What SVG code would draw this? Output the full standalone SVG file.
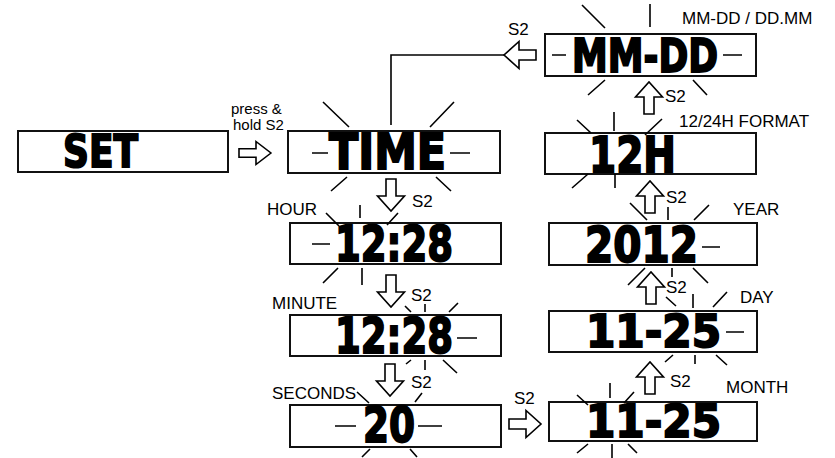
<svg xmlns="http://www.w3.org/2000/svg" width="835" height="458" viewBox="0 0 835 458">
<style>
.box{fill:#fff;stroke:#111;stroke-width:2}
.lcd{font-family:"DejaVu Sans","Liberation Sans",sans-serif;font-weight:bold;fill:#000;stroke:#000;stroke-width:2;stroke-linejoin:miter}
.lbl{font-family:"Liberation Sans",Arial,sans-serif;font-size:17px;fill:#000}
.sm{font-size:15px}
.ray{stroke:#000;stroke-width:1.6;fill:none}
.arr{fill:#fff;stroke:#000;stroke-width:1.6;stroke-linejoin:miter}
.con{stroke:#000;stroke-width:1.6;fill:none}
</style>
<defs>
<path id="ar" d="M0,-5 L17,-5 L17,-13.5 L32,0 L17,13.5 L17,5 L0,5 Z"/>
</defs>
<rect width="835" height="458" fill="#fff"/>

<g id="connectors">
<path class="con" d="M391,125 V55 H505"/>
<use href="#ar" class="arr" transform="translate(536,55) rotate(180)"/>
<text class="lbl" x="508" y="35">S2</text>
<use href="#ar" class="arr" transform="translate(239,153) scale(1,0.85)"/>
<text class="lbl sm" x="231" y="114">press &amp;</text>
<text class="lbl sm" x="233" y="130">hold S2</text>
<use href="#ar" class="arr" transform="translate(391,179) rotate(90)"/>
<text class="lbl" x="412" y="207">S2</text>
<use href="#ar" class="arr" transform="translate(391,275) rotate(90)"/>
<text class="lbl" x="411" y="301">S2</text>
<use href="#ar" class="arr" transform="translate(390,364) rotate(90)"/>
<text class="lbl" x="411" y="388">S2</text>
<use href="#ar" class="arr" transform="translate(509,424)"/>
<text class="lbl" x="514" y="404">S2</text>
<use href="#ar" class="arr" transform="translate(650,394) rotate(-90)"/>
<text class="lbl" x="670" y="387">S2</text>
<use href="#ar" class="arr" transform="translate(651,304) rotate(-90)"/>
<text class="lbl" x="666" y="293">S2</text>
<use href="#ar" class="arr" transform="translate(650,213) rotate(-90)"/>
<text class="lbl" x="666" y="203">S2</text>
<use href="#ar" class="arr" transform="translate(649,114) rotate(-90)"/>
<text class="lbl" x="665" y="102">S2</text>
</g>

<g id="node-set">
<rect class="box" x="18" y="131" width="210" height="41"/>
<text class="lcd" x="63" y="167" font-size="45" textLength="75" lengthAdjust="spacingAndGlyphs">SET</text>
</g>

<g id="node-time">
<rect class="box" x="288" y="131" width="212" height="42"/>
<text class="lcd" x="329" y="169" font-size="50" textLength="117" lengthAdjust="spacingAndGlyphs">TIME</text>
<path class="ray" d="M312,153H328 M450,153H470 M323,102L349,127 M454,102L430,127 M347,177L331,191 M436,177L451,191"/>
</g>

<g id="node-hour">
<rect class="box" x="290" y="223" width="211" height="41"/>
<text class="lcd" x="335" y="261" font-size="50" textLength="118" lengthAdjust="spacingAndGlyphs">12:28</text>
<path class="ray" d="M312,244H330 M326,213L339,226 M360,205V218 M398,213L387,225 M338,268L323,283 M362,268V285"/>
<text class="lbl" x="267" y="215">HOUR</text>
</g>

<g id="node-minute">
<rect class="box" x="290" y="315" width="211" height="41"/>
<text class="lcd" x="335" y="353" font-size="50" textLength="118" lengthAdjust="spacingAndGlyphs">12:28</text>
<path class="ray" d="M457,338H477 M405,306L411,312 M425,304V312 M458,303L449,312 M411,360L406,364 M425,360V370 M443,360L457,373"/>
<text class="lbl" x="272" y="309">MINUTE</text>
</g>

<g id="node-seconds">
<rect class="box" x="290" y="405" width="211" height="42"/>
<text class="lcd" x="363" y="442" font-size="50" textLength="52" lengthAdjust="spacingAndGlyphs">20</text>
<path class="ray" d="M335,426H356 M418,426H442 M357,392L369,403 M422,393L415,402 M370,449L362,457 M410,449L417,457"/>
<text class="lbl" x="272" y="399">SECONDS</text>
</g>

<g id="node-mmdd">
<rect class="box" x="545" y="34" width="211" height="42"/>
<text class="lcd" x="572" y="72" font-size="46" textLength="146" lengthAdjust="spacingAndGlyphs">MM-DD</text>
<path class="ray" d="M552,55H566 M723,55H742 M582,5L605,28 M650,4V27 M605,80L588,95 M693,80L707,95"/>
<text class="lbl" x="682" y="24">MM-DD / DD.MM</text>
</g>

<g id="node-12h">
<rect class="box" x="545" y="133" width="211" height="41"/>
<text class="lcd" x="589" y="172" font-size="50" textLength="87" lengthAdjust="spacingAndGlyphs">12H</text>
<path class="ray" d="M577,120L591,133 M614,112V131 M662,119L645,135 M588,174L572,188 M615,174V188"/>
<text class="lbl" x="679" y="127">12/24H FORMAT</text>
</g>

<g id="node-year">
<rect class="box" x="549" y="223" width="208" height="42"/>
<text class="lcd" x="585" y="262" font-size="50" textLength="113" lengthAdjust="spacingAndGlyphs">2012</text>
<path class="ray" d="M702,247H720 M630,203L647,220 M668,207V220 M709,205L694,220 M645,268L628,285 M672,268V277 M693,268L708,283"/>
<text class="lbl" x="733" y="215">YEAR</text>
</g>

<g id="node-day">
<rect class="box" x="549" y="311" width="208" height="41"/>
<text class="lcd" x="586" y="347" font-size="45" textLength="135" lengthAdjust="spacingAndGlyphs">11-25</text>
<path class="ray" d="M726,332H744 M666,297L676,306 M693,294V308 M727,292L713,307 M673,355L665,362 M695,355V364 M716,355L727,365"/>
<text class="lbl" x="740" y="303">DAY</text>
</g>

<g id="node-month">
<rect class="box" x="549" y="402" width="208" height="39"/>
<text class="lcd" x="586" y="437" font-size="45" textLength="135" lengthAdjust="spacingAndGlyphs">11-25</text>
<path class="ray" d="M577,395L588,405 M610,383V398 M634,392L624,403 M588,444L577,453 M612,444V458 M628,444L637,453"/>
<text class="lbl" x="726" y="393">MONTH</text>
</g>
</svg>
